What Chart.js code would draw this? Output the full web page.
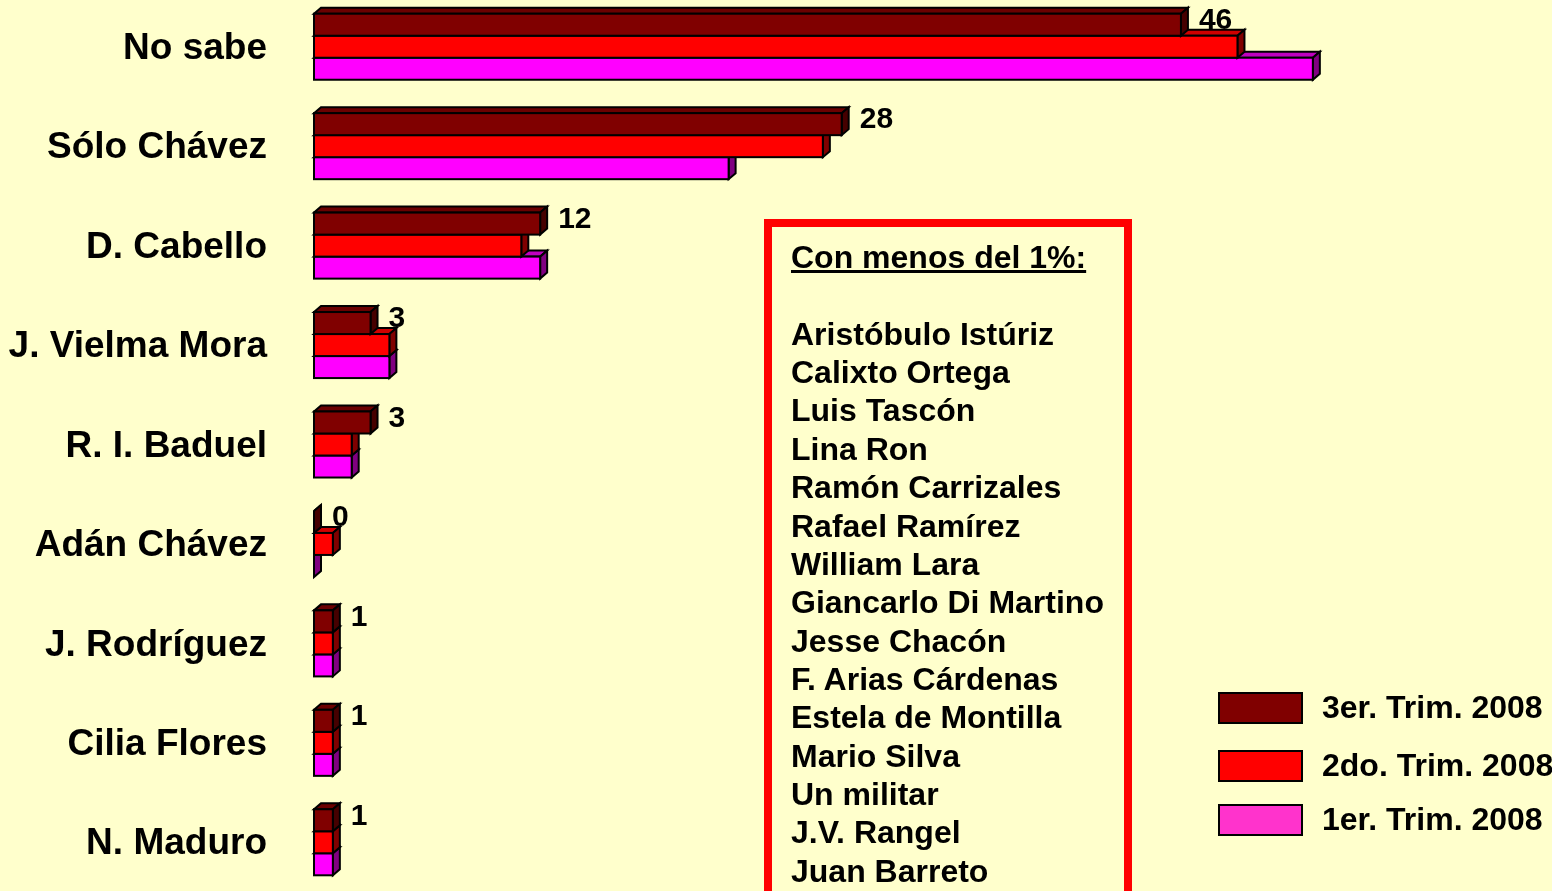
<!DOCTYPE html>
<html lang="es">
<head>
<meta charset="utf-8">
<title>Preferencias 2008</title>
<script src="https://cdn.jsdelivr.net/npm/chart.js@4.4.1/dist/chart.umd.min.js"></script>
<style>
  html, body { margin: 0; padding: 0; background: #FFFFCC; overflow: hidden; width: 1552px; height: 891px; }
  #wrap { position: absolute; left: 0; top: -3px; width: 1552px; height: 895px; }
  #nota {
    position: absolute; left: 764px; top: 219px; width: 368px; height: 720px;
    border: 8px solid #FF0000; box-sizing: border-box;
    padding: 11px 0 0 19px;
    font-family: "Liberation Sans", Arial, sans-serif; font-weight: bold;
    font-size: 32px; line-height: 38.36px; color: #000;
    white-space: nowrap;
  }
  #nota .titulo { text-decoration: underline; text-decoration-thickness: 3px; }
</style>
</head>
<body>
<div id="wrap"><canvas id="c"></canvas></div>
<div id="nota"></div>
<script>
// Categorías y series (porcentajes por trimestre)
const categorias = ['No sabe', 'Sólo Chávez', 'D. Cabello', 'J. Vielma Mora', 'R. I. Baduel',
                    'Adán Chávez', 'J. Rodríguez', 'Cilia Flores', 'N. Maduro'];
const trim3 = [46, 28, 12, 3, 3, 0, 1, 1, 1];
const trim2 = [49, 27, 11, 4, 2, 1, 1, 1, 1];
const trim1 = [53, 22, 12, 4, 2, 0, 1, 1, 1];
const seriesNombres = ['3er. Trim. 2008', '2do. Trim. 2008', '1er. Trim. 2008'];
const menosDelUno = ['Aristóbulo Istúriz', 'Calixto Ortega', 'Luis Tascón', 'Lina Ron',
  'Ramón Carrizales', 'Rafael Ramírez', 'William Lara', 'Giancarlo Di Martino', 'Jesse Chacón',
  'F. Arias Cárdenas', 'Estela de Montilla', 'Mario Silva', 'Un militar', 'J.V. Rangel', 'Juan Barreto'];

// Recuadro de nombres con menos del 1%
const nota = document.getElementById('nota');
nota.innerHTML = '<div class="titulo">Con menos del 1%:</div><div>&nbsp;</div>' +
  menosDelUno.map(n => '<div>' + n + '</div>').join('');

const FONT = '"Liberation Sans", Arial, sans-serif';
const frente = ['#800000', '#FF0000', '#FF00FF'];
const caras = [
  { top: '#6b0000', side: '#460000' },
  { top: '#D00000', side: '#800000' },
  { top: '#C000C0', side: '#800080' }
];
const coloresLeyenda = ['#800000', '#FF0000', '#FF33CC'];
const DX = 7, DY = 6;

function geom(el) {
  const p = el.getProps(['x', 'y', 'base', 'height'], true);
  return { l: p.base, r: p.x, t: p.y - p.height / 2, b: p.y + p.height / 2, cy: p.y };
}

// Caras superior y lateral de cada barra (efecto 3D), contornos, valores y leyenda
const barras3D = {
  id: 'barras3D',
  beforeDatasetDraw(chart, args) {
    const ctx = chart.ctx, c = caras[args.index];
    ctx.save();
    ctx.lineWidth = 2; ctx.strokeStyle = '#000'; ctx.lineJoin = 'miter';
    args.meta.data.forEach(el => {
      const g = geom(el);
      ctx.beginPath();
      ctx.moveTo(g.l, g.t); ctx.lineTo(g.l + DX, g.t - DY);
      ctx.lineTo(g.r + DX, g.t - DY); ctx.lineTo(g.r, g.t); ctx.closePath();
      ctx.fillStyle = c.top; ctx.fill(); ctx.stroke();
      ctx.beginPath();
      ctx.moveTo(g.r, g.t); ctx.lineTo(g.r + DX, g.t - DY);
      ctx.lineTo(g.r + DX, g.b - DY); ctx.lineTo(g.r, g.b); ctx.closePath();
      ctx.fillStyle = c.side; ctx.fill(); ctx.stroke();
    });
    ctx.restore();
  },
  afterDatasetDraw(chart, args) {
    const ctx = chart.ctx;
    ctx.save();
    ctx.lineWidth = 2; ctx.strokeStyle = '#000';
    args.meta.data.forEach(el => {
      const g = geom(el);
      ctx.strokeRect(g.l, g.t, g.r - g.l, g.b - g.t);
    });
    ctx.restore();
  },
  afterDatasetsDraw(chart) {
    // Valores del 3er trimestre
    const ctx = chart.ctx;
    const meta = chart.getDatasetMeta(0);
    ctx.save();
    ctx.font = 'bold 30px ' + FONT;
    ctx.fillStyle = '#000'; ctx.textAlign = 'left'; ctx.textBaseline = 'middle';
    meta.data.forEach((el, i) => {
      const g = geom(el);
      ctx.fillText(String(chart.data.datasets[0].data[i]), g.r + 18, g.cy - 4);
    });
    ctx.restore();
  },
  afterDraw(chart) {
    // Leyenda
    const ctx = chart.ctx;
    const ys = [711, 769, 823];
    ctx.save();
    ctx.font = 'bold 32px ' + FONT;
    ctx.textAlign = 'left'; ctx.textBaseline = 'middle';
    chart.data.datasets.forEach((ds, i) => {
      ctx.fillStyle = coloresLeyenda[i];
      ctx.fillRect(1219, ys[i] - 15, 83, 30);
      ctx.lineWidth = 2; ctx.strokeStyle = '#000';
      ctx.strokeRect(1219, ys[i] - 15, 83, 30);
      ctx.fillStyle = '#000';
      ctx.fillText(ds.label, 1322, ys[i] + 1);
    });
    ctx.restore();
  }
};

new Chart(document.getElementById('c'), {
  type: 'bar',
  data: {
    labels: categorias,
    datasets: [
      { label: seriesNombres[0], data: trim3, backgroundColor: frente[0] },
      { label: seriesNombres[1], data: trim2, backgroundColor: frente[1] },
      { label: seriesNombres[2], data: trim1, backgroundColor: frente[2] }
    ]
  },
  options: {
    indexAxis: 'y',
    responsive: true,
    maintainAspectRatio: false,
    animation: false,
    events: [],
    layout: { padding: { left: 0, right: 13, top: 0, bottom: 0 } },
    datasets: { bar: { categoryPercentage: 0.664, barPercentage: 1, borderWidth: 0 } },
    plugins: { legend: { display: false }, tooltip: { enabled: false } },
    scales: {
      x: { display: false, min: 0, max: 65 },
      y: {
        grid: { display: false, drawTicks: false },
        border: { display: false },
        ticks: { color: '#000', padding: 47, labelOffset: 2, font: { family: FONT, size: 37, weight: 'bold' } },
        afterFit(scale) {
          scale.width = 314;
          scale.paddingTop = 0;
          scale.paddingBottom = 0;
        }
      }
    }
  },
  plugins: [barras3D]
});
</script>
</body>
</html>
